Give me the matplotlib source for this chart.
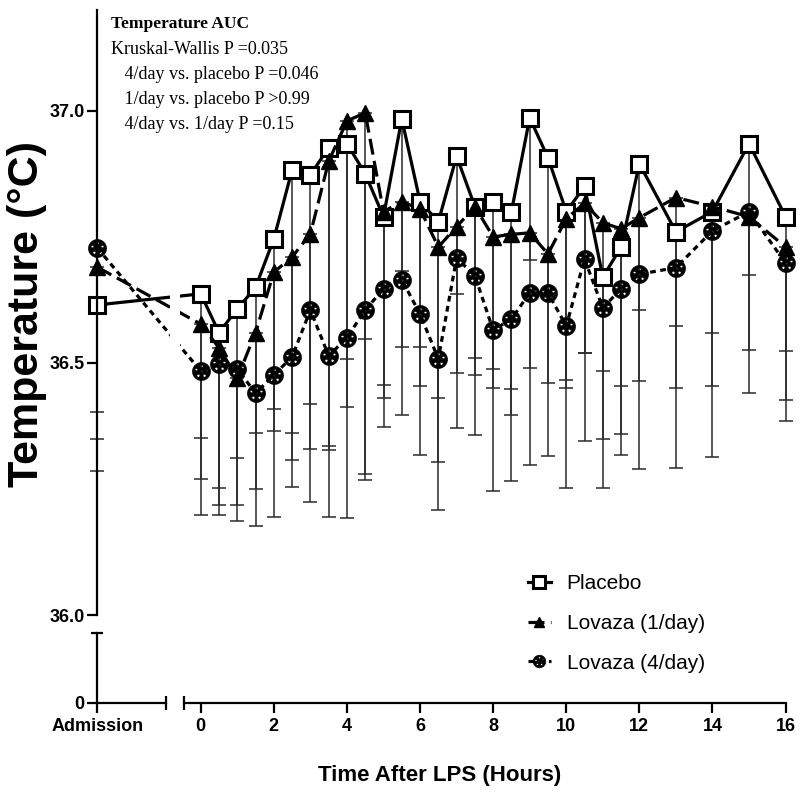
import numpy as np
import matplotlib
matplotlib.use("Agg")
import matplotlib.pyplot as plt
from matplotlib.path import Path

plt.rcParams['font.family'] = ['Liberation Sans', 'DejaVu Sans']

# ---------------- data ----------------
hours = [0, 0.5, 1, 1.5, 2, 2.5, 3, 3.5, 4, 4.5, 5, 5.5, 6, 6.5, 7, 7.5, 8,
         8.5, 9, 9.5, 10, 10.5, 11, 11.5, 12, 13, 14, 15, 16]
x_ticks = [0, 2, 4, 6, 8, 10, 12, 14, 16]
admission_label = "Admission"
y_ticks = [36.0, 36.5, 37.0]
y_ticklabels = ["36.0", "36.5", "37.0"]

# first value = admission, then hours
placebo = [36.615, 36.637, 36.56, 36.607, 36.65, 36.746, 36.883, 36.873, 36.927,
           36.935, 36.875, 36.79, 36.984, 36.82, 36.78, 36.91, 36.81, 36.82,
           36.80, 36.986, 36.907, 36.80, 36.85, 36.67, 36.73, 36.895, 36.76,
           36.80, 36.935, 36.79]
lov1 = [36.69, 36.577, 36.53, 36.47, 36.56, 36.68, 36.71, 36.756, 36.90, 36.98,
        36.996, 36.80, 36.82, 36.805, 36.73, 36.77, 36.81, 36.75, 36.755,
        36.758, 36.716, 36.786, 36.817, 36.778, 36.766, 36.788, 36.828, 36.81,
        36.79, 36.73]
lov4 = [36.728, 36.484, 36.498, 36.488, 36.44, 36.476, 36.512, 36.605, 36.514,
        36.55, 36.605, 36.647, 36.665, 36.597, 36.508, 36.708, 36.673, 36.565,
        36.587, 36.639, 36.639, 36.573, 36.706, 36.609, 36.647, 36.676, 36.689,
        36.762, 36.80, 36.698]

# lower end of each error bar (mean - SD)
placebo_low = [36.403, 36.198, 36.198, 36.187, 36.177, 36.194, 36.254, 36.224,
               36.194, 36.413, 36.280, 36.431, 36.397, 36.317, 36.208, 36.371,
               36.357, 36.246, 36.266, 36.298, 36.315, 36.252, 36.345, 36.349,
               36.359, 36.290, 36.450, 36.454, 36.440, 36.385]
lov1_low = [36.349, 36.270, 36.218, 36.312, 36.250, 36.365, 36.308, 36.329,
            36.327, 36.192, 36.268, 36.373, 36.683, 36.454, 36.304, 36.480,
            36.476, 36.450, 36.397, 36.704, 36.630, 36.450, 36.520, 36.252,
            36.317, 36.464, 36.292, 36.313, 36.675, 36.427]
lov4_low = [36.286, 36.351, 36.252, 36.218, 36.361, 36.409, 36.361, 36.419,
            36.335, 36.508, 36.548, 36.456, 36.532, 36.532, 36.431, 36.637,
            36.510, 36.488, 36.448, 36.490, 36.460, 36.466, 36.520, 36.484,
            36.454, 36.605, 36.573, 36.560, 36.526, 36.524]

labels = ["Placebo", "Lovaza (1/day)", "Lovaza (4/day)"]
stats_title = "Temperature AUC"
stats_lines = ["Kruskal-Wallis P =0.035",
               "   4/day vs. placebo P =0.046",
               "   1/day vs. placebo P >0.99",
               "   4/day vs. 1/day P =0.15"]

# ---------------- layout ----------------
ADM = -2.83          # position of the admission point on the x scale
XMAX = 16.02
LEFT_END = -0.937
RIGHT_START = -0.456
W, H = 800, 799

x = [ADM] + hours


def fx(px):
    return px / W


def fy(py):
    return 1 - py / H


ppu = (786.3 - 97.3) / (XMAX - ADM)
x0px = 97.3

fig = plt.figure(figsize=(8, 7.99), dpi=100)
ax = fig.add_axes([fx(x0px), fy(615), (XMAX - ADM) * ppu / W, (615 - 10) / H])
ax.set_xlim(ADM, XMAX)
ax.set_ylim(36.0, 37.2)
for s in ["top", "right", "bottom"]:
    ax.spines[s].set_visible(False)
ax.spines["left"].set_linewidth(1.6)
ax.set_xticks([])
ax.set_yticks(y_ticks)
ax.set_yticklabels(y_ticklabels, fontweight="bold")
ax.tick_params(axis="y", direction="out", length=7, width=1.6, pad=2, labelsize=13)


# custom "soccer-ball" marker: black disc with white holes
def ball_marker():
    n = 20
    th = np.linspace(0, 2 * np.pi, n, endpoint=False)
    verts, codes = [], []

    def poly(cx, cy, r, rev=False):
        t = th[::-1] if rev else th
        v = np.column_stack([cx + r * np.cos(t), cy + r * np.sin(t)]).tolist()
        verts.extend(v + [v[0]])
        codes.extend([Path.MOVETO] + [Path.LINETO] * (n - 1) + [Path.CLOSEPOLY])

    poly(0, 0, 1.0)
    for k in range(5):
        a = np.pi / 2 + 2 * np.pi * k / 5
        poly(0.58 * np.cos(a), 0.58 * np.sin(a), 0.17, True)
    poly(0, 0, 0.15, True)
    return Path(verts, codes)


BALL = ball_marker()

series = [
    (placebo, placebo_low, dict(ls="-", marker="s", ms=12, mfc="white", mec="black", mew=2.2)),
    (lov1, lov1_low, dict(ls=(0, (5, 2)), marker="^", ms=11, mfc="black", mec="black", mew=1.0)),
    (lov4, lov4_low, dict(ls=(0, (1.8, 1.4)), marker=BALL, ms=13, mfc="black", mec="black", mew=0.5)),
]

handles = []
for i, ((m, lo, st), lab) in enumerate(zip(series, labels)):
    m = np.array(m)
    lo = np.array(lo)
    ax.errorbar(x, m, yerr=[m - lo, np.zeros_like(m)], fmt="none", ecolor="#2a2a2a",
                elinewidth=1.1, capsize=5, capthick=1.1, zorder=1, clip_on=False)
    ln, = ax.plot(x, m, color="black", lw=2.3, zorder=2 + 0.1 * i, clip_on=False,
                  label=lab, **st)
    handles.append(ln)

# gap in the lines at the x-axis break
ax.axvspan((170 - 200.9) / ppu, (180 - 200.9) / ppu, color="white", zorder=2.5, lw=0)

# ---------------- lower broken axes ----------------
bot_b, bot_h = fy(702.7), (702.7 - 632.7) / H
axL = fig.add_axes([fx(x0px), bot_b, (LEFT_END - ADM) * ppu / W, bot_h])
axL.set_xlim(ADM, LEFT_END)
axL.set_ylim(0, 1)
for s in ["top", "right"]:
    axL.spines[s].set_visible(False)
for s in ["left", "bottom"]:
    axL.spines[s].set_linewidth(1.6)
axL.set_yticks([0])
axL.set_yticklabels(["0"], fontweight="bold")
axL.set_xticks([ADM])
axL.set_xticklabels([admission_label], fontweight="bold")
axL.tick_params(direction="out", length=7, width=1.6, labelsize=13)
axL.tick_params(axis="x", pad=4)
axL.tick_params(axis="y", pad=2)
axL.plot([1], [0], transform=axL.transAxes, marker="|", ms=10, mew=1.6,
         color="black", clip_on=False)
axL.plot([0], [1], transform=axL.transAxes, marker="_", ms=8, mew=1.6,
         color="black", clip_on=False)
axL.patch.set_visible(False)

rs_px = x0px + (RIGHT_START - ADM) * ppu
axR = fig.add_axes([fx(rs_px), bot_b, (XMAX - RIGHT_START) * ppu / W, bot_h])
axR.set_xlim(RIGHT_START, XMAX)
axR.set_ylim(0, 1)
for s in ["top", "right", "left"]:
    axR.spines[s].set_visible(False)
axR.spines["bottom"].set_linewidth(1.6)
axR.set_yticks([])
axR.set_xticks(x_ticks)
axR.set_xticklabels([str(t) for t in x_ticks], fontweight="bold")
axR.tick_params(axis="x", direction="out", length=7, width=1.6, labelsize=13, pad=4)
axR.plot([0], [0], transform=axR.transAxes, marker="|", ms=10, mew=1.6,
         color="black", clip_on=False)
axR.patch.set_visible(False)

# ---------------- labels / text ----------------
fig.text(fx(27), fy(314), "Temperature (°C)", rotation=90, fontsize=31,
         fontweight="bold", ha="center", va="center")
fig.text(fx(440), fy(776), "Time After LPS (Hours)", fontsize=16,
         fontweight="bold", ha="center", va="center")

serif = ["Liberation Serif", "DejaVu Serif"]
fig.text(fx(111), fy(28), stats_title, family=serif, fontsize=12.5,
         fontweight="bold", ha="left", va="baseline")
for k, line in enumerate(stats_lines):
    fig.text(fx(111), fy(54 + 25 * k), line, family=serif, fontsize=13,
             ha="left", va="baseline")

leg = fig.legend(handles=handles, labels=labels, loc="upper left",
                 bbox_to_anchor=(fx(528), fy(574)), frameon=False, fontsize=15,
                 handlelength=1.1, handletextpad=0.75, labelspacing=1.0,
                 borderpad=0, borderaxespad=0, markerscale=0.7)

fig.savefig("out.png", dpi=100)
